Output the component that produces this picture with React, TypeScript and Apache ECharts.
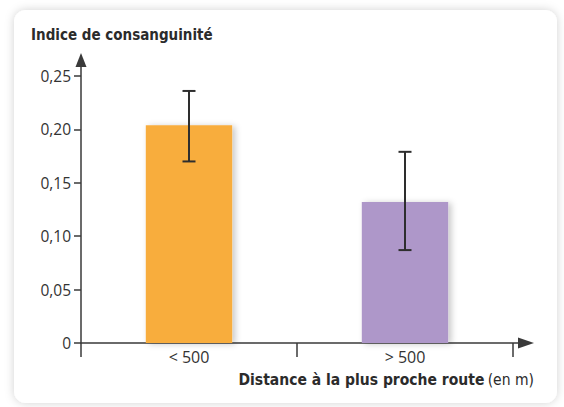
import React, { useEffect, useRef } from "react";
import * as echarts from "echarts";

const categories = ["< 500", "> 500"];
const means = [0.204, 0.132];
const errLow = [0.17, 0.087];
const errHigh = [0.236, 0.179];
const barColors = ["#F8AD3C", "#AE97C9"];
const yTicks = { min: 0, max: 0.25, interval: 0.05 };

export default function App() {
  const ref = useRef<HTMLDivElement>(null);
  useEffect(() => {
    if (!ref.current) return;
    const chart = echarts.init(ref.current, null, { renderer: "svg" });
    const axisColor = "#3a3a3a";
    chart.setOption({
      animation: false,
      backgroundColor: "#ffffff",
      graphic: [
        {
          type: "rect",
          z: -10,
          shape: { x: 14, y: 10, width: 543, height: 393, r: 12 },
          style: {
            fill: "#ffffff",
            shadowBlur: 10,
            shadowColor: "rgba(0,0,0,0.18)",
            shadowOffsetX: 0,
            shadowOffsetY: 0,
          },
        },
        {
          type: "text",
          left: 31,
          top: 27,
          style: {
            text: "Indice de consanguinité",
            font: "bold 15px 'Liberation Sans Narrow', 'DejaVu Sans Condensed', sans-serif",
            fill: "#2b2b2b",
          },
        },
        {
          type: "text",
          right: 564 - 534,
          top: 372,
          style: {
            text: "{b|Distance à la plus proche route} {n|(en m)}",
            rich: {
              b: {
                font: "bold 15.5px 'Liberation Sans Narrow', 'DejaVu Sans Condensed', sans-serif",
                fill: "#2b2b2b",
              },
              n: {
                font: "15.5px 'Liberation Sans Narrow', 'DejaVu Sans Condensed', sans-serif",
                fill: "#2b2b2b",
              },
            },
          },
        },
      ],
      grid: [
        { left: 81, top: 60, right: 564 - 526, bottom: 407 - 343 },
        { left: 81, top: 76, right: 564 - 513, bottom: 407 - 343 },
      ],
      xAxis: [
        {
          type: "value",
          gridIndex: 0,
          min: 0,
          max: 1,
          axisLine: {
            show: true,
            lineStyle: { color: axisColor, width: 1.5 },
            symbol: ["none", "triangle"],
            symbolSize: [11, 16],
          },
          axisTick: { show: false },
          axisLabel: { show: false },
          splitLine: { show: false },
        },
        {
          type: "category",
          gridIndex: 1,
          data: categories,
          boundaryGap: true,
          axisLine: { show: false },
          axisTick: {
            show: true,
            alignWithLabel: false,
            length: 14,
            lineStyle: { color: axisColor, width: 1.5 },
          },
          axisLabel: {
            margin: 6,
            color: "#333",
            fontSize: 16,
            fontFamily: "'Open Sans', sans-serif",
          },
          splitLine: { show: false },
        },
      ],
      yAxis: [
        {
          type: "value",
          gridIndex: 0,
          min: 0,
          max: 1,
          axisLine: {
            show: true,
            lineStyle: { color: axisColor, width: 1.5 },
            symbol: ["none", "triangle"],
            symbolSize: [11, 14],
          },
          axisTick: { show: false },
          axisLabel: { show: false },
          splitLine: { show: false },
        },
        {
          type: "value",
          gridIndex: 1,
          min: yTicks.min,
          max: yTicks.max,
          interval: yTicks.interval,
          axisLine: { show: false },
          axisTick: {
            show: true,
            length: 7,
            lineStyle: { color: axisColor, width: 1.5 },
          },
          axisLabel: {
            margin: 10,
            color: "#333",
            fontSize: 15.5,
            fontFamily: "'Open Sans', sans-serif",
            formatter: (v: number) =>
              v === 0 ? "0" : v.toFixed(2).replace(".", ","),
          },
          splitLine: { show: false },
        },
      ],
      series: [
        {
          type: "bar",
          xAxisIndex: 1,
          yAxisIndex: 1,
          barWidth: "40%",
          data: means.map((v, i) => ({
            value: v,
            itemStyle: {
              color: barColors[i],
              shadowBlur: 6,
              shadowColor: "rgba(0,0,0,0.22)",
              shadowOffsetX: 3,
              shadowOffsetY: 1,
            },
          })),
        },
        {
          type: "custom",
          xAxisIndex: 1,
          yAxisIndex: 1,
          z: 5,
          data: categories.map((c, i) => [i, errLow[i], errHigh[i]]),
          encode: { x: 0, y: [1, 2] },
          renderItem: (params: any, api: any) => {
            const x = api.value(0);
            const lo = api.coord([x, api.value(1)]);
            const hi = api.coord([x, api.value(2)]);
            const hw = 6.5;
            const style = { stroke: "#2e2e2e", lineWidth: 2 };
            return {
              type: "group",
              children: [
                { type: "line", shape: { x1: hi[0], y1: hi[1], x2: lo[0], y2: lo[1] }, style },
                { type: "line", shape: { x1: hi[0] - hw, y1: hi[1], x2: hi[0] + hw, y2: hi[1] }, style },
                { type: "line", shape: { x1: lo[0] - hw, y1: lo[1], x2: lo[0] + hw, y2: lo[1] }, style },
              ],
            };
          },
        },
      ],
    });
    return () => chart.dispose();
  }, []);
  return (
    <div
      ref={ref}
      style={{ position: "fixed", left: 0, top: 0, width: 564, height: 407 }}
    />
  );
}
